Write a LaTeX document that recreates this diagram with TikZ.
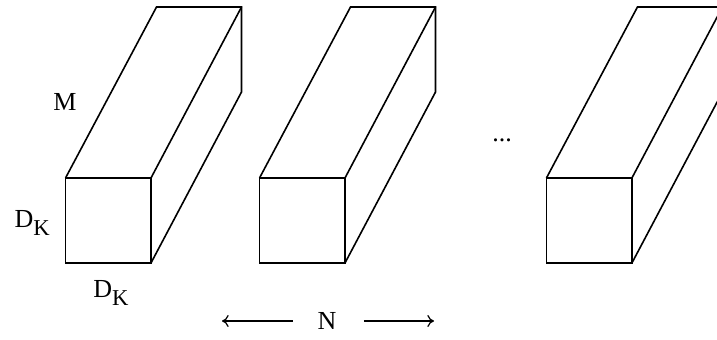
\documentclass[tikz,border=0pt]{standalone}
\usepackage{fontspec}
\setmainfont{Liberation Serif}
\usetikzlibrary{arrows.meta,positioning}
\newcommand{\lowsub}[1]{\raisebox{-6pt}{\fontsize{17}{19}\selectfont #1}}

\begin{document}
\begin{tikzpicture}[
  x=0.75pt, y=-0.75pt,
  font=\fontsize{19.5}{23}\selectfont,
  line width=1.2pt,
  face/.style={draw, minimum width=64.1pt, minimum height=63.75pt, inner sep=0pt, outer sep=0pt},
  lbl/.style={inner sep=1pt},
  arr/.style={-{To[length=5pt, width=9pt]}, line width=0.9pt}
]
\useasboundingbox (0,0) rectangle (717,339);
\clip (0,0) rectangle (717,339);
% front faces
\node[face] (f1) at (108.25,220.5) {};
\node[face, right=81.4pt of f1] (f2) {};
\node[face, right=151.1pt of f2] (f3) {};
% depth of each block
\foreach \f in {f1,f2,f3} {
  \draw (\f.north west) -- ++(91,-171) -- ++(85,0) coordinate (\f-t) -- ++(0,85) -- (\f.south east);
  \draw (\f.north east) -- (\f-t);
}
\node[lbl] (m) at (65,101.5) {M};
\node[lbl, left=10.25pt of f1, yshift=-2pt] (dkl) {D\lowsub{K}};
\node[lbl, below=11.75pt of f1, xshift=2pt] (dkb) {D\lowsub{K}};
\node[lbl] (dots) at (502,140) {...};
\node[lbl] (n) at (327,321) {N};
\coordinate (la) at (222,321);
\coordinate (ra) at (434,321);
\draw[arr, shorten <=17pt] (n) -- (la);
\draw[arr, shorten <=19pt] (n) -- (ra);
\end{tikzpicture}
\end{document}
